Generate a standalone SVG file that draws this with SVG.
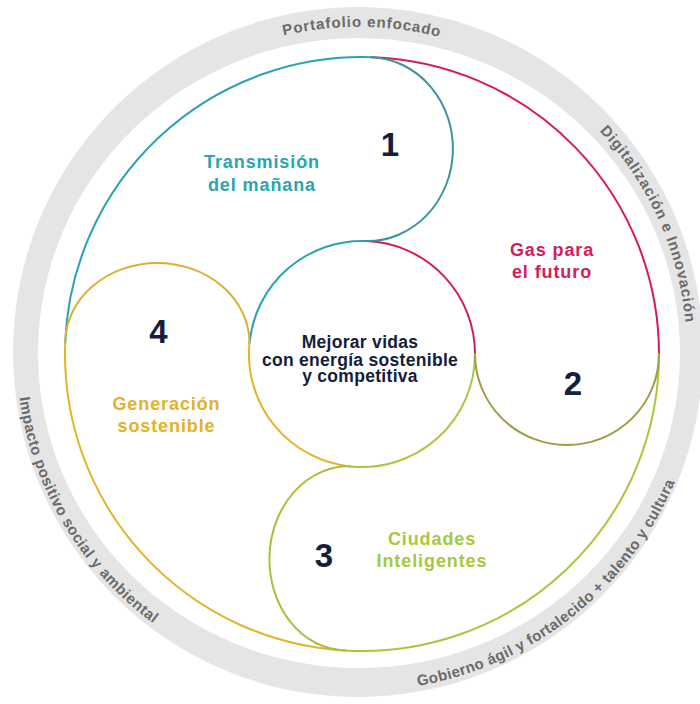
<svg xmlns="http://www.w3.org/2000/svg" width="700" height="704" viewBox="0 0 700 704">
<style>
.ring{fill:#e5e5e5;fill-rule:evenodd}
.rt{font-family:"Liberation Sans",Arial,sans-serif;font-weight:bold;font-size:15px;fill:#6a6a6a}
.ln{fill:none;stroke-width:2;stroke-linecap:round}
.teal{stroke:#2aa3ae}.red{stroke:#d61b5b}.green{stroke:#a6c83d}.gold{stroke:#e5b328}
.lbl{font-family:"Liberation Sans",Arial,sans-serif;font-weight:bold;font-size:18px;text-anchor:middle;letter-spacing:0.9px}
.num{font-family:"Liberation Sans",Arial,sans-serif;font-weight:bold;font-size:33px;fill:#14203a;text-anchor:middle}
.ctr{font-family:"Liberation Sans",Arial,sans-serif;font-weight:bold;font-size:17.5px;fill:#14203a;text-anchor:middle;letter-spacing:0.3px}
</style>
<defs>
<path id="pTop" d="M74.4,189 A328,324 0 0,1 642.6,189"/>
<path id="pRight" d="M450.6,40 A328,324 0 0,1 652.6,494.6"/>
<path id="pBR" d="M235.9,668.6 A342,338 0 0,0 696.3,300.1"/>
<path id="pBL" d="M61.7,185 A342,338 0 0,0 359.7,691"/>
</defs>
<rect width="700" height="704" fill="#ffffff"/>
<g id="ring">
<path class="ring" d="M13,352 A345,345 0 1,0 703,352 A345,345 0 1,0 13,352 Z M38,353 A321,315 0 1,1 680,353 A321,315 0 1,1 38,353 Z"/>
<text class="rt" letter-spacing="0.9"><textPath href="#pTop" startOffset="50.5%" text-anchor="middle">Portafolio enfocado</textPath></text>
<text class="rt" letter-spacing="0.8"><textPath href="#pRight" startOffset="50%" text-anchor="middle">Digitalización e Innovación</textPath></text>
<text class="rt" letter-spacing="0.4"><textPath href="#pBR" startOffset="50%" text-anchor="middle">Gobierno ágil y fortalecido + talento y cultura</textPath></text>
<text class="rt" letter-spacing="0.5"><textPath href="#pBL" startOffset="50%" text-anchor="middle">Impacto positivo social y ambiental</textPath></text>
</g>
<g id="connectors">
<path class="ln teal" d="M65.2,343 A297,297 0 0,1 372,57.2"/>
<path class="ln teal" d="M367,241.1 A113,113 0 0,0 249.5,343"/>
<path class="ln red" d="M372,57.2 A297,297 0 0,1 659,354"/>
<path class="ln red" d="M475,354 A113,113 0 0,0 367,241.1"/>
<path class="ln green" d="M659,354 A297,297 0 0,1 345,650.5"/>
<path class="ln green" d="M350,466.4 A113,113 0 0,0 475,354"/>
<path class="ln gold" d="M345,650.5 A297,297 0 0,1 65.2,343"/>
<path class="ln gold" d="M249.5,343 A113,113 0 0,0 350,466.4"/>
<path class="ln" stroke="#36969f" d="M372,57.2 A85,92 1.56 0,1 367,241.1"/>
<path class="ln" stroke="#a09a42" d="M659,354 A92,91 0 0,1 475,354"/>
<path class="ln" stroke="#a4c23e" d="M350,466.4 A78,92 1.56 0,0 345,650.5"/>
<path class="ln" stroke="#d6b232" d="M65.2,343 A92.15,80 0 0,1 249.5,343"/>
</g>
<g id="node-center">
<text class="ctr" x="360" y="348">Mejorar vidas</text>
<text class="ctr" x="360" y="365.5">con energía sostenible</text>
<text class="ctr" x="360" y="382">y competitiva</text>
</g>
<g id="node-1">
<text class="num" x="390" y="156">1</text>
<text class="lbl" fill="#2aa5ae" x="262" y="168">Transmisión</text>
<text class="lbl" fill="#2aa5ae" x="262" y="191">del mañana</text>
</g>
<g id="node-2">
<text class="num" x="573" y="395">2</text>
<text class="lbl" fill="#d61b5b" x="552" y="255.5">Gas para</text>
<text class="lbl" fill="#d61b5b" x="552" y="277.5">el futuro</text>
</g>
<g id="node-3">
<text class="num" x="324" y="567">3</text>
<text class="lbl" fill="#a6c83d" x="432" y="544.5">Ciudades</text>
<text class="lbl" fill="#a6c83d" x="432" y="567">Inteligentes</text>
</g>
<g id="node-4">
<text class="num" x="158.5" y="343">4</text>
<text class="lbl" fill="#e3b12a" x="166.5" y="410">Generación</text>
<text class="lbl" fill="#e3b12a" x="166.5" y="432">sostenible</text>
</g>
</svg>
